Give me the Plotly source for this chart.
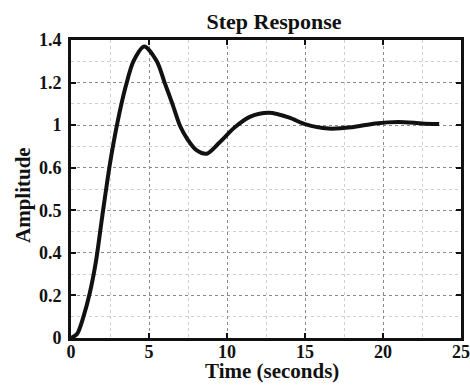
import plotly.graph_objects as go

# step response
time_s = [0, 0.4, 0.8, 1.2, 1.6, 2.0, 2.5, 3.0, 3.5, 4.0, 4.7, 5.5, 6.0, 6.5, 7.0,
          7.5, 8.0, 8.7, 9.5, 10.5, 11.5, 12.7, 14.0, 15.0, 16.5, 18.0, 19.5, 21.0,
          22.5, 23.6]
amplitude = [0, 0.02, 0.1, 0.21, 0.36, 0.57, 0.82, 1.02, 1.18, 1.3, 1.37, 1.3, 1.2,
             1.1, 0.995, 0.93, 0.885, 0.866, 0.917, 0.99, 1.04, 1.058, 1.035, 1.005,
             0.984, 0.99, 1.008, 1.015, 1.008, 1.005]

x_ticks = [0, 5, 10, 15, 20, 25]
y_ticks = [0, 0.2, 0.4, 0.6, 0.8, 1.0, 1.2, 1.4]
y_labels = ["0", "0.2", "0.4", "0.5", "0.6", "1", "1.2", "1.4"]

serif = "Liberation Serif, Times New Roman, serif"

fig = go.Figure()
fig.add_trace(
    go.Scatter(
        x=time_s,
        y=amplitude,
        mode="lines",
        line=dict(color="#111111", width=4, shape="spline", smoothing=0.8),
        showlegend=False,
    )
)

fig.update_layout(
    width=470,
    height=385,
    margin=dict(l=71, r=9, t=40, b=47),
    paper_bgcolor="white",
    plot_bgcolor="white",
    font=dict(family=serif, color="#111111"),
    title=dict(
        text="<b>Step Response</b>",
        x=0.583,
        xanchor="center",
        y=0.945,
        yanchor="middle",
        font=dict(size=22, family=serif),
    ),
)

axis_common = dict(
    automargin=False,
    showline=True,
    linecolor="#111111",
    linewidth=3,
    mirror="ticks",
    ticks="inside",
    ticklen=5,
    tickwidth=1.5,
    tickcolor="#111111",
    showgrid=True,
    gridcolor="#8a8a8a",
    griddash="dot",
    gridwidth=1,
    zeroline=False,
    ticklabeloverflow="allow",
    tickfont=dict(size=18, family=serif),
    minor=dict(showgrid=True, gridcolor="#cfcfcf", griddash="dot", gridwidth=1),
)

fig.update_xaxes(
    range=[0, 25],
    tickvals=x_ticks,
    ticktext=[f"<b>{v}</b>" for v in x_ticks],
    **axis_common,
)
fig.update_xaxes(minor_dtick=2.5, ticklabelstandoff=-5)
fig.update_yaxes(
    range=[0, 1.4],
    tickvals=y_ticks,
    ticktext=[f"<b>{t}</b>" for t in y_labels],
    **axis_common,
)
fig.update_yaxes(minor_dtick=0.1, ticklabelstandoff=3)

# axis titles
fig.add_annotation(
    text="<b>Time (seconds)</b>", xref="paper", yref="paper", x=0.5, y=0,
    xanchor="center", yanchor="bottom", xshift=6, yshift=-47,
    showarrow=False, font=dict(size=21, family=serif),
)
fig.add_annotation(
    text="<b>Amplitude</b>", xref="paper", yref="paper", x=0, y=0.5,
    xanchor="center", yanchor="middle", xshift=-48, yshift=-6, textangle=-90,
    showarrow=False, font=dict(size=21, family=serif),
)

# drop the default page margin so the figure sits at the window's corner
fig.write_html(
    "out.html",
    config={"displayModeBar": False},
    post_script="document.body.style.margin='0';",
)
